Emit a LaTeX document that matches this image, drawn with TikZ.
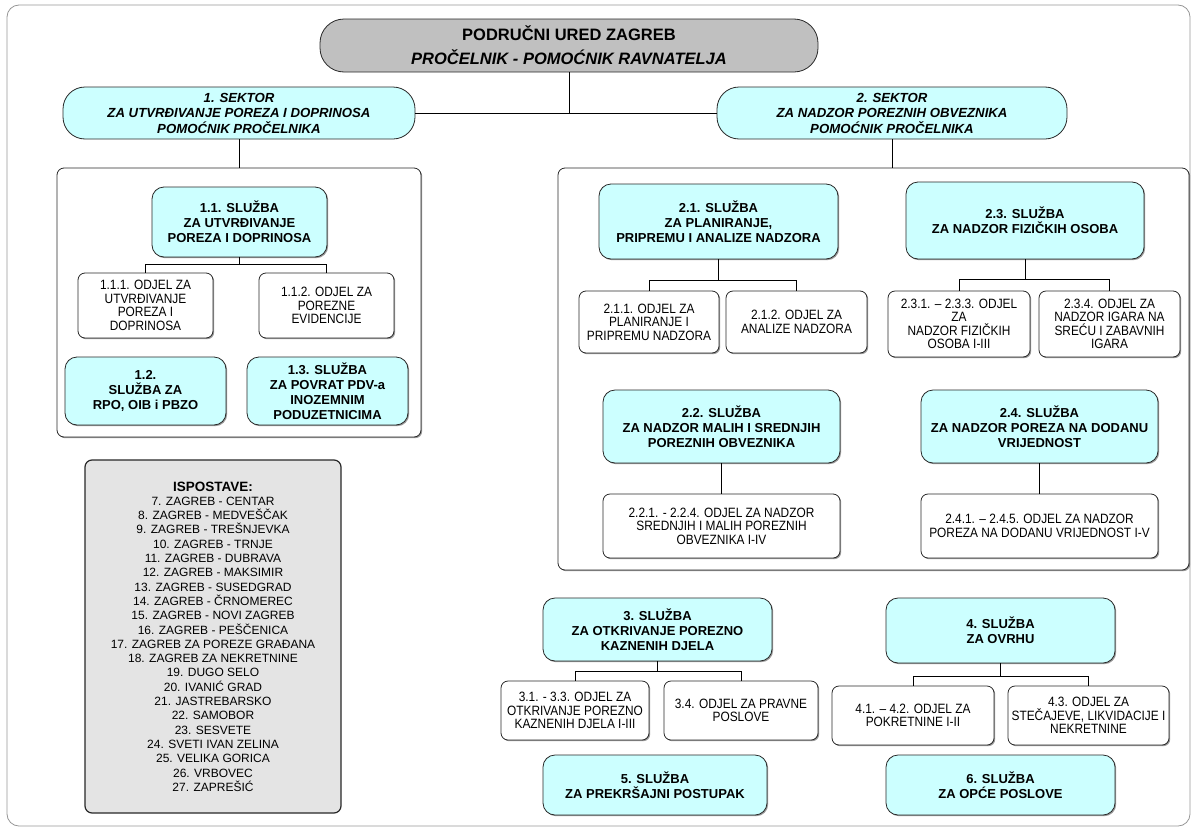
\documentclass[tikz,border=0pt]{standalone}
\usepackage{fontspec}
\setmainfont{Liberation Sans}
\newfontfamily\uskifont[FakeStretch=0.88]{Liberation Sans}
\usepackage{xcolor}
\usepackage{tikz}
\usetikzlibrary{shadows}
\definecolor{svijetloplava}{RGB}{204, 255, 255}
\definecolor{sivaured}{RGB}{192, 192, 192}
\definecolor{sivaisp}{RGB}{228, 228, 228}
\definecolor{okvirsiva}{RGB}{150, 150, 150}
\definecolor{rubna}{RGB}{40, 40, 40}

\tikzset{
    sjena/.style={drop shadow={shadow xshift=1.2pt, shadow yshift=-1.2pt, fill=black, opacity=0.4}},
    ured/.style={draw=rubna, line width=0.8pt, fill=sivaured, rounded corners=24pt, align=center, inner sep=0pt,
        font=\fontsize{16.5}{24}\selectfont\bfseries},
    sektor/.style={draw=rubna, line width=0.8pt, fill=svijetloplava, rounded corners=22pt, align=center, inner sep=0pt,
        font=\fontsize{13.2}{15.5}\selectfont\bfseries\itshape},
    sluzba/.style={sjena, draw=rubna, line width=0.8pt, fill=svijetloplava, rounded corners=12pt, align=center, inner sep=0pt,
        font=\fontsize{13}{15}\selectfont\bfseries},
    odjel/.style={sjena, draw=rubna, line width=0.8pt, fill=white, rounded corners=7pt, align=center, inner sep=0pt,
        font=\uskifont\fontsize{13.5}{13.5}\selectfont},
    skupina/.style={sjena, draw=rubna, line width=0.8pt, fill=white, rounded corners=7pt, inner sep=0pt},
    ispostave/.style={draw=rubna, line width=1.2pt, fill=sivaisp, rounded corners=7pt, align=center, inner sep=0pt,
        font=\fontsize{12}{14.3}\selectfont},
    veza/.style={draw=black, line width=0.8pt}
}

\begin{document}
\begin{tikzpicture}[x=1pt, y=-1pt]
    \useasboundingbox (0,0) rectangle (1199,830);
    \draw[draw=okvirsiva, line width=0.8pt, rounded corners=12pt] (7,5) rectangle (1190,826);

    \node[ured, minimum width=498, minimum height=53] (ured) at (569,45.5)
        {PODRUČNI URED ZAGREB\\\textit{PROČELNIK - POMOĆNIK RAVNATELJA}};

    \node[sektor, minimum width=352, minimum height=52] (sek1) at (239,113)
        {1. SEKTOR\\ZA UTVRĐIVANJE POREZA I DOPRINOSA\\POMOĆNIK PROČELNIKA};
    \node[sektor, minimum width=350, minimum height=52] (sek2) at (892,113)
        {2. SEKTOR\\ZA NADZOR POREZNIH OBVEZNIKA\\POMOĆNIK PROČELNIKA};

    \node[skupina, minimum width=364, minimum height=269] (grupa1) at (239,302.5) {};
    \node[skupina, minimum width=631, minimum height=402] (grupa2) at (873.5,369) {};

    \node[sluzba, minimum width=175, minimum height=70] (s11) at (239.5,222)
        {1.1. SLUŽBA\\ZA UTVRĐIVANJE\\POREZA I DOPRINOSA};
    \node[odjel, minimum width=135, minimum height=65] (o111) at (145.5,305.5)
        {1.1.1. ODJEL ZA\\UTVRĐIVANJE\\POREZA I\\DOPRINOSA};
    \node[odjel, minimum width=135, minimum height=65] (o112) at (326.5,305.5)
        {1.1.2. ODJEL ZA\\POREZNE\\EVIDENCIJE};
    \node[sluzba, minimum width=161, minimum height=68] (s12) at (145.5,391)
        {1.2.\\SLUŽBA ZA\\RPO, OIB i PBZO};
    \node[sluzba, minimum width=161, minimum height=68] (s13) at (327.5,391)
        {1.3. SLUŽBA\\ZA POVRAT PDV-a\\INOZEMNIM\\PODUZETNICIMA};

    \node[sluzba, minimum width=239, minimum height=75] (s21) at (718.5,221.5)
        {2.1. SLUŽBA\\ZA PLANIRANJE,\\PRIPREMU I ANALIZE NADZORA};
    \node[odjel, minimum width=140, minimum height=62] (o211) at (649,322)
        {2.1.1. ODJEL ZA\\PLANIRANJE I\\PRIPREMU NADZORA};
    \node[odjel, minimum width=141, minimum height=62] (o212) at (796.5,322)
        {2.1.2. ODJEL ZA\\ANALIZE NADZORA};
    \node[sluzba, minimum width=238, minimum height=77] (s23) at (1025,220.5)
        {2.3. SLUŽBA\\ZA NADZOR FIZIČKIH OSOBA};
    \node[odjel, minimum width=142, minimum height=66] (o231) at (959,324)
        {2.3.1. – 2.3.3. ODJEL\\ZA\\NADZOR FIZIČKIH\\OSOBA I-III};
    \node[odjel, minimum width=141, minimum height=66] (o234) at (1109.5,324)
        {2.3.4. ODJEL ZA\\NADZOR IGARA NA\\SREĆU I ZABAVNIH\\IGARA};
    \node[sluzba, minimum width=237, minimum height=73] (s22) at (721.5,426.5)
        {2.2. SLUŽBA\\ZA NADZOR MALIH I SREDNJIH\\POREZNIH OBVEZNIKA};
    \node[odjel, minimum width=237, minimum height=64] (o221) at (721.5,526)
        {2.2.1. - 2.2.4. ODJEL ZA NADZOR\\SREDNJIH I MALIH POREZNIH\\OBVEZNIKA I-IV};
    \node[sluzba, minimum width=237, minimum height=73] (s24) at (1039.5,426.5)
        {2.4. SLUŽBA\\ZA NADZOR POREZA NA DODANU\\VRIJEDNOST};
    \node[odjel, minimum width=237, minimum height=64] (o241) at (1039.5,526)
        {2.4.1. – 2.4.5. ODJEL ZA NADZOR\\POREZA NA DODANU VRIJEDNOST I-V};

    \node[sluzba, minimum width=229, minimum height=63] (s3) at (657.5,629.5)
        {3. SLUŽBA\\ZA OTKRIVANJE POREZNO\\KAZNENIH DJELA};
    \node[odjel, minimum width=148, minimum height=59] (o31) at (575,710.5)
        {3.1. - 3.3. ODJEL ZA\\OTKRIVANJE POREZNO\\KAZNENIH DJELA I-III};
    \node[odjel, minimum width=154, minimum height=59] (o34) at (741,710.5)
        {3.4. ODJEL ZA PRAVNE\\POSLOVE};
    \node[sluzba, minimum width=229, minimum height=65] (s4) at (1000.5,630.5)
        {4. SLUŽBA\\ZA OVRHU};
    \node[odjel, minimum width=162, minimum height=59] (o41) at (913,715.5)
        {4.1. – 4.2. ODJEL ZA\\POKRETNINE I-II};
    \node[odjel, minimum width=161, minimum height=59] (o43) at (1088.5,715.5)
        {4.3. ODJEL ZA\\STEČAJEVE, LIKVIDACIJE I\\NEKRETNINE};
    \node[sluzba, minimum width=224, minimum height=60] (s5) at (655,785)
        {5. SLUŽBA\\ZA PREKRŠAJNI POSTUPAK};
    \node[sluzba, minimum width=229, minimum height=60] (s6) at (1000.5,785)
        {6. SLUŽBA\\ZA OPĆE POSLOVE};

    \node[ispostave, minimum width=256, minimum height=353] (isp) at (213,636.5)
        {{\fontsize{13.5}{16}\selectfont\bfseries ISPOSTAVE:}\\
        7. ZAGREB - CENTAR\\8. ZAGREB - MEDVEŠČAK\\9. ZAGREB - TREŠNJEVKA\\
        10. ZAGREB - TRNJE\\11. ZAGREB - DUBRAVA\\12. ZAGREB - MAKSIMIR\\
        13. ZAGREB - SUSEDGRAD\\14. ZAGREB - ČRNOMEREC\\15. ZAGREB - NOVI ZAGREB\\
        16. ZAGREB - PEŠČENICA\\17. ZAGREB ZA POREZE GRAĐANA\\18. ZAGREB ZA NEKRETNINE\\
        19. DUGO SELO\\20. IVANIĆ GRAD\\21. JASTREBARSKO\\22. SAMOBOR\\23. SESVETE\\
        24. SVETI IVAN ZELINA\\25. VELIKA GORICA\\26. VRBOVEC\\27. ZAPREŠIĆ};

    \draw[veza] (ured.south) -- (ured.south |- sek1.east);
    \draw[veza] (sek1.east) -- (sek2.west);
    \draw[veza] (sek1.south) -- (grupa1.north);
    \draw[veza] (sek2.south) -- (sek2.south |- grupa2.north);

    \draw[veza] (s11.south) -- ++(0,7) coordinate (b11) -| (o111.north);
    \draw[veza] (b11) -| (o112.north);
    \draw[veza] (s21.south) -- ++(0,21) coordinate (b21) -| (o211.north);
    \draw[veza] (b21) -| (o212.north);
    \draw[veza] (s23.south) -- ++(0,20) coordinate (b23) -| (o231.north);
    \draw[veza] (b23) -| (o234.north);
    \draw[veza] (s22.south) -- (o221.north);
    \draw[veza] (s24.south) -- (o241.north);
    \draw[veza] (s3.south) -- ++(0,10) coordinate (b3) -| (o31.north);
    \draw[veza] (b3) -| (o34.north);
    \draw[veza] (s4.south) -- ++(0,13) coordinate (b4) -| (o41.north);
    \draw[veza] (b4) -| (o43.north);
\end{tikzpicture}
\end{document}
